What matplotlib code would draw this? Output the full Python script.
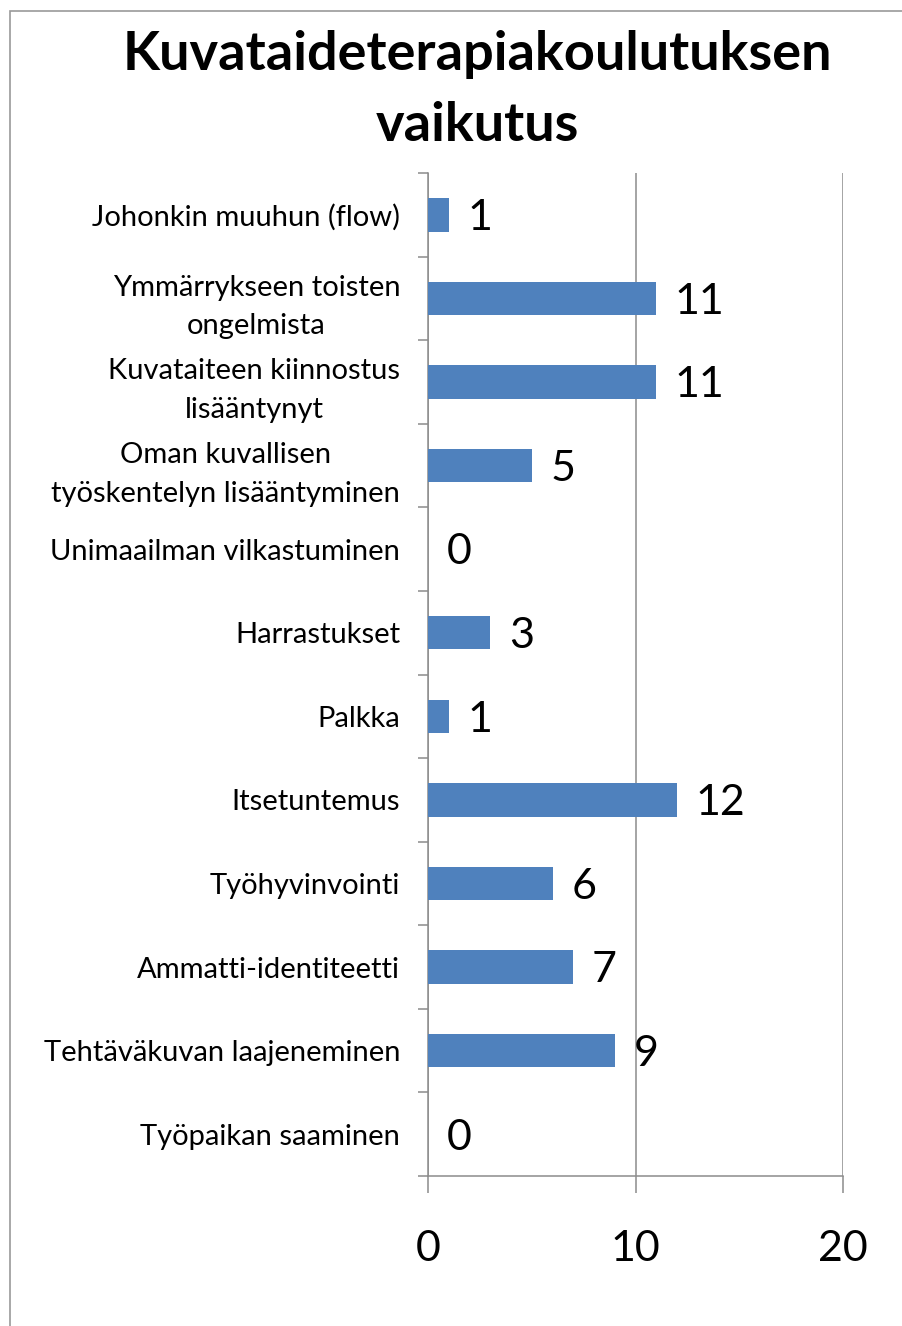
import matplotlib.pyplot as plt
from matplotlib.patches import Rectangle
import numpy as np

# chart data, top to bottom
categories = [
    "Johonkin muuhun (flow)",
    "Ymmärrykseen toisten\nongelmista",
    "Kuvataiteen kiinnostus\nlisääntynyt",
    "Oman kuvallisen\ntyöskentelyn lisääntyminen",
    "Unimaailman vilkastuminen",
    "Harrastukset",
    "Palkka",
    "Itsetuntemus",
    "Työhyvinvointi",
    "Ammatti-identiteetti",
    "Tehtäväkuvan laajeneminen",
    "Työpaikan saaminen",
]
values = [1, 11, 11, 5, 0, 3, 1, 12, 6, 7, 9, 0]
x_ticks = [0, 10, 20]
title = "Kuvataideterapiakoulutuksen\nvaikutus"

bar_color = "#4F81BD"
grid_color = "#8c8c8c"

plt.rcParams['font.family'] = ['Lato', 'DejaVu Sans']

W, H = 902, 1326
fig = plt.figure(figsize=(W / 100, H / 100), dpi=100)
ax = fig.add_axes([428 / W, 1 - 1176 / H, 415 / W, (1176 - 173) / H])

pos = np.arange(len(categories))
ax.barh(pos, values, height=0.4, color=bar_color, zorder=3)

# value labels next to bars
for p, v in zip(pos, values):
    ax.text(v + 0.9, p + 0.04, str(v), va='center', ha='left', fontsize=31, zorder=4)

ax.set_xlim(0, 20)
ax.set_ylim(len(categories) - 0.5, -0.5)

ax.set_xticks(x_ticks)
ax.set_xticklabels([str(t) for t in x_ticks], fontsize=31)
ax.tick_params(axis='x', length=12, width=1.1, color=grid_color, pad=27)

ax.set_yticks(pos)
ax.set_yticklabels(categories, fontsize=21, multialignment='center', linespacing=1.6)
ax.tick_params(axis='y', which='major', length=0, pad=20)
ax.set_yticks(np.arange(len(categories) + 1) - 0.5, minor=True)
ax.tick_params(axis='y', which='minor', length=7, width=1.1, color=grid_color, direction='out')

ax.grid(axis='x', color=grid_color, linewidth=1.1, zorder=1)
ax.set_axisbelow(True)
for side in ['top', 'right']:
    ax.spines[side].set_visible(False)
for side in ['left', 'bottom']:
    ax.spines[side].set_color(grid_color)
    ax.spines[side].set_linewidth(1.1)

fig.text(477 / W, 1 - 90 / H, title, ha='center', va='center',
         fontsize=39, fontweight='bold', linespacing=1.55)

# outer chart frame
fig.add_artist(Rectangle((9.5 / W, -0.05), 1.2, 1.05 - 11 / H, transform=fig.transFigure,
                         fill=False, edgecolor='#999999', linewidth=1.2))

plt.savefig("out.png", dpi=100)
